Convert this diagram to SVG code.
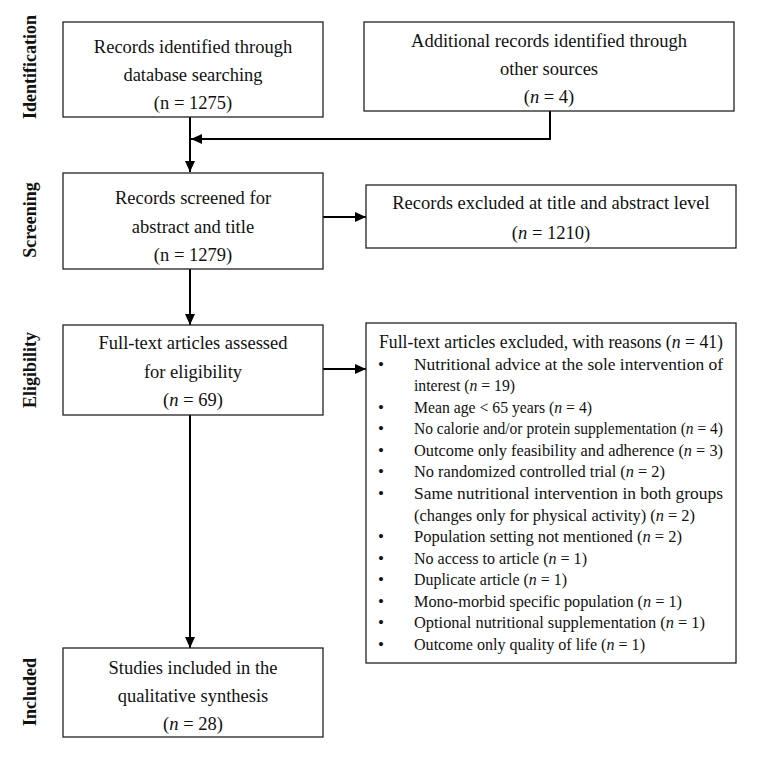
<svg xmlns="http://www.w3.org/2000/svg" width="759" height="761" viewBox="0 0 759 761">
<style>
.box{fill:#fff;stroke:#222;stroke-width:1.3}
.t{font-family:"Liberation Serif","Times New Roman",serif;font-size:18.5px;fill:#111}
.c{text-anchor:middle}
.l{font-family:"Liberation Serif","Times New Roman",serif;font-size:17px;fill:#111}
.lab{font-family:"Liberation Serif","Times New Roman",serif;font-size:18px;font-weight:bold;fill:#111;text-anchor:middle}
.con{fill:none;stroke:#000;stroke-width:2}
.i{font-style:italic}
</style>
<defs>
<marker id="ah" markerUnits="userSpaceOnUse" markerWidth="11" markerHeight="10" refX="11" refY="5" orient="auto">
<path d="M0,0 L11,5 L0,10 z" fill="#000"/>
</marker>
</defs>
<rect width="759" height="761" fill="#fff"/>
<g id="labels">
<text class="lab" transform="translate(36,67) rotate(-90)">Identification</text>
<text class="lab" transform="translate(36,220) rotate(-90)">Screening</text>
<text class="lab" transform="translate(36,370) rotate(-90)">Eligibility</text>
<text class="lab" transform="translate(36,692) rotate(-90)">Included</text>
</g>
<g id="connectors">
<path class="con" d="M190,117 V172" marker-end="url(#ah)"/>
<path class="con" d="M550,111 V139 H191" marker-end="url(#ah)"/>
<path class="con" d="M323,217 H366" marker-end="url(#ah)"/>
<path class="con" d="M190,269 V325" marker-end="url(#ah)"/>
<path class="con" d="M323,369 H366" marker-end="url(#ah)"/>
<path class="con" d="M190,415 V648" marker-end="url(#ah)"/>
</g>
<g id="n1">
<rect class="box" x="63" y="22" width="260" height="95"/>
<text class="t c" x="193" y="53">Records identified through</text>
<text class="t c" x="193" y="81">database searching</text>
<text class="t c" x="193" y="109">(n = 1275)</text>
</g>
<g id="n2">
<rect class="box" x="364" y="22" width="370" height="89"/>
<text class="t c" x="549" y="47">Additional records identified through</text>
<text class="t c" x="549" y="75">other sources</text>
<text class="t c" x="549" y="103">(<tspan class="i">n</tspan> = 4)</text>
</g>
<g id="n3">
<rect class="box" x="63" y="173" width="260" height="96"/>
<text class="t c" x="193" y="204">Records screened for</text>
<text class="t c" x="193" y="233">abstract and title</text>
<text class="t c" x="193" y="261">(n = 1279)</text>
</g>
<g id="n4">
<rect class="box" x="366" y="185" width="370" height="63"/>
<text class="t c" x="551" y="209">Records excluded at title and abstract level</text>
<text class="t c" x="551" y="239">(<tspan class="i">n</tspan> = 1210)</text>
</g>
<g id="n5">
<rect class="box" x="63" y="325" width="260" height="90"/>
<text class="t c" x="193" y="349">Full-text articles assessed</text>
<text class="t c" x="193" y="378">for eligibility</text>
<text class="t c" x="193" y="406">(<tspan class="i">n</tspan> = 69)</text>
</g>
<g id="n6">
<rect class="box" x="366" y="323" width="370" height="340"/>
<text class="t" x="379" y="348" textLength="344" lengthAdjust="spacingAndGlyphs">Full-text articles excluded, with reasons (<tspan class="i">n</tspan> = 41)</text>
<g class="l">
<text x="378" y="369.6">•</text>
<text x="414" y="369.6" textLength="309" lengthAdjust="spacingAndGlyphs">Nutritional advice at the sole intervention of</text>
<text x="414" y="391.1" textLength="101" lengthAdjust="spacingAndGlyphs">interest (<tspan class="i">n</tspan> = 19)</text>
<text x="378" y="412.7">•</text>
<text x="414" y="412.7" textLength="178" lengthAdjust="spacingAndGlyphs">Mean age &lt; 65 years (<tspan class="i">n</tspan> = 4)</text>
<text x="378" y="434.3">•</text>
<text x="414" y="434.3" textLength="309" lengthAdjust="spacingAndGlyphs">No calorie and/or protein supplementation (<tspan class="i">n</tspan> = 4)</text>
<text x="378" y="455.9">•</text>
<text x="414" y="455.9" textLength="309" lengthAdjust="spacingAndGlyphs">Outcome only feasibility and adherence (<tspan class="i">n</tspan> = 3)</text>
<text x="378" y="477.4">•</text>
<text x="414" y="477.4" textLength="251" lengthAdjust="spacingAndGlyphs">No randomized controlled trial (<tspan class="i">n</tspan> = 2)</text>
<text x="378" y="499">•</text>
<text x="414" y="499" textLength="309" lengthAdjust="spacingAndGlyphs">Same nutritional intervention in both groups</text>
<text x="414" y="520.6" textLength="281" lengthAdjust="spacingAndGlyphs">(changes only for physical activity) (<tspan class="i">n</tspan> = 2)</text>
<text x="378" y="542.1">•</text>
<text x="414" y="542.1" textLength="268" lengthAdjust="spacingAndGlyphs">Population setting not mentioned (<tspan class="i">n</tspan> = 2)</text>
<text x="378" y="563.7">•</text>
<text x="414" y="563.7" textLength="173" lengthAdjust="spacingAndGlyphs">No access to article (<tspan class="i">n</tspan> = 1)</text>
<text x="378" y="585.3">•</text>
<text x="414" y="585.3" textLength="153" lengthAdjust="spacingAndGlyphs">Duplicate article (<tspan class="i">n</tspan> = 1)</text>
<text x="378" y="606.9">•</text>
<text x="414" y="606.9" textLength="268" lengthAdjust="spacingAndGlyphs">Mono-morbid specific population (<tspan class="i">n</tspan> = 1)</text>
<text x="378" y="628.4">•</text>
<text x="414" y="628.4" textLength="291" lengthAdjust="spacingAndGlyphs">Optional nutritional supplementation (<tspan class="i">n</tspan> = 1)</text>
<text x="378" y="650">•</text>
<text x="414" y="650" textLength="231" lengthAdjust="spacingAndGlyphs">Outcome only quality of life (<tspan class="i">n</tspan> = 1)</text>
</g>
</g>
<g id="n7">
<rect class="box" x="63" y="648" width="260" height="89"/>
<text class="t c" x="193" y="674">Studies included in the</text>
<text class="t c" x="193" y="702">qualitative synthesis</text>
<text class="t c" x="193" y="730">(<tspan class="i">n</tspan> = 28)</text>
</g>
</svg>
